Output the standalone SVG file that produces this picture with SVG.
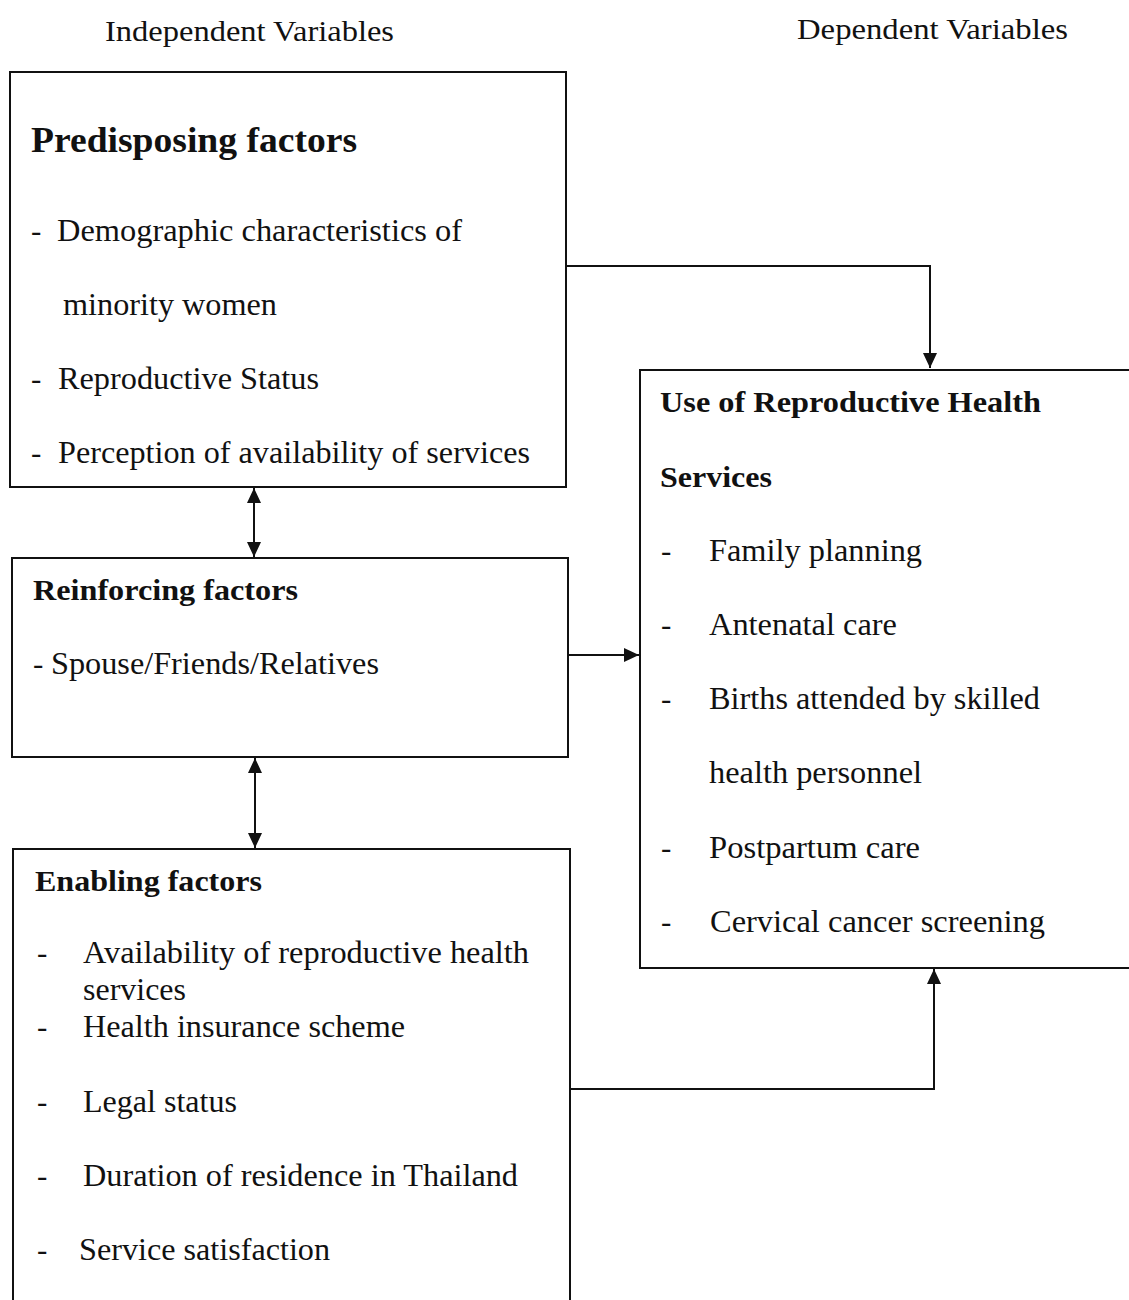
<svg xmlns="http://www.w3.org/2000/svg" width="1129" height="1300" viewBox="0 0 1129 1300">
<defs>
<style>
text{font-family:"Liberation Serif","Times New Roman",serif;fill:#111}
.h{font-size:29px}
.t{font-size:31px}
.b{font-size:30px;font-weight:bold}
.bb{font-size:36px;font-weight:bold}
.box{fill:#fff;stroke:#111;stroke-width:2}
.c{fill:none;stroke:#111;stroke-width:2}
</style>
<marker id="ah2" viewBox="0 0 15 14" refX="15" refY="7" markerWidth="15" markerHeight="14" markerUnits="userSpaceOnUse" orient="auto-start-reverse"><path d="M0,0 L15,7 L0,14 z" fill="#111"/></marker>
</defs>
<rect width="1129" height="1300" fill="#fff"/>
<text class="h" x="105" y="41" textLength="289" lengthAdjust="spacingAndGlyphs">Independent Variables</text>
<text class="h" x="797" y="39" textLength="271" lengthAdjust="spacingAndGlyphs">Dependent Variables</text>

<g id="predisposing">
<rect class="box" x="10" y="72" width="556" height="415"/>
<text class="bb" x="31" y="152" textLength="326" lengthAdjust="spacingAndGlyphs">Predisposing factors</text>
<text class="t" x="31" y="241">-</text><text class="t" x="57" y="241" textLength="405" lengthAdjust="spacingAndGlyphs">Demographic characteristics of</text>
<text class="t" x="63" y="315" textLength="214" lengthAdjust="spacingAndGlyphs">minority women</text>
<text class="t" x="31" y="389">-</text><text class="t" x="58" y="389" textLength="261" lengthAdjust="spacingAndGlyphs">Reproductive Status</text>
<text class="t" x="31" y="463">-</text><text class="t" x="58" y="463" textLength="472" lengthAdjust="spacingAndGlyphs">Perception of availability of services</text>
</g>

<g id="reinforcing">
<rect class="box" x="12" y="558" width="556" height="199"/>
<text class="b" x="33" y="600" textLength="265" lengthAdjust="spacingAndGlyphs">Reinforcing factors</text>
<text class="t" x="33" y="674">-</text><text class="t" x="51" y="674" textLength="328" lengthAdjust="spacingAndGlyphs">Spouse/Friends/Relatives</text>
</g>

<g id="enabling">
<rect class="box" x="13" y="849" width="557" height="470"/>
<text class="b" x="35" y="891" textLength="227" lengthAdjust="spacingAndGlyphs">Enabling factors</text>
<text class="t" x="37" y="963">-</text><text class="t" x="83" y="963" textLength="446" lengthAdjust="spacingAndGlyphs">Availability of reproductive health</text>
<text class="t" x="83" y="1000" textLength="103" lengthAdjust="spacingAndGlyphs">services</text>
<text class="t" x="37" y="1037">-</text><text class="t" x="83" y="1037" textLength="322" lengthAdjust="spacingAndGlyphs">Health insurance scheme</text>
<text class="t" x="37" y="1112">-</text><text class="t" x="83" y="1112" textLength="154" lengthAdjust="spacingAndGlyphs">Legal status</text>
<text class="t" x="37" y="1186">-</text><text class="t" x="83" y="1186" textLength="435" lengthAdjust="spacingAndGlyphs">Duration of residence in Thailand</text>
<text class="t" x="37" y="1260">-</text><text class="t" x="79" y="1260" textLength="251" lengthAdjust="spacingAndGlyphs">Service satisfaction</text>
</g>

<g id="use">
<rect class="box" x="640" y="370" width="520" height="598"/>
<text class="b" x="660" y="412" textLength="381" lengthAdjust="spacingAndGlyphs">Use of Reproductive Health</text>
<text class="b" x="660" y="487" textLength="112" lengthAdjust="spacingAndGlyphs">Services</text>
<text class="t" x="661" y="561">-</text><text class="t" x="709" y="561" textLength="213" lengthAdjust="spacingAndGlyphs">Family planning</text>
<text class="t" x="661" y="635">-</text><text class="t" x="709" y="635" textLength="188" lengthAdjust="spacingAndGlyphs">Antenatal care</text>
<text class="t" x="661" y="709">-</text><text class="t" x="709" y="709" textLength="331" lengthAdjust="spacingAndGlyphs">Births attended by skilled</text>
<text class="t" x="709" y="783" textLength="213" lengthAdjust="spacingAndGlyphs">health personnel</text>
<text class="t" x="661" y="858">-</text><text class="t" x="709" y="858" textLength="211" lengthAdjust="spacingAndGlyphs">Postpartum care</text>
<text class="t" x="661" y="932">-</text><text class="t" x="710" y="932" textLength="335" lengthAdjust="spacingAndGlyphs">Cervical cancer screening</text>
</g>

<g id="connectors">
<path class="c" d="M566,266 H930 V368" marker-end="url(#ah2)"/>
<path class="c" d="M568,655 H639" marker-end="url(#ah2)"/>
<path class="c" d="M570,1089 H934 V969" marker-end="url(#ah2)"/>
<path class="c" d="M254,488 V557" marker-start="url(#ah2)" marker-end="url(#ah2)"/>
<path class="c" d="M255,758 V848" marker-start="url(#ah2)" marker-end="url(#ah2)"/>
</g>
</svg>
